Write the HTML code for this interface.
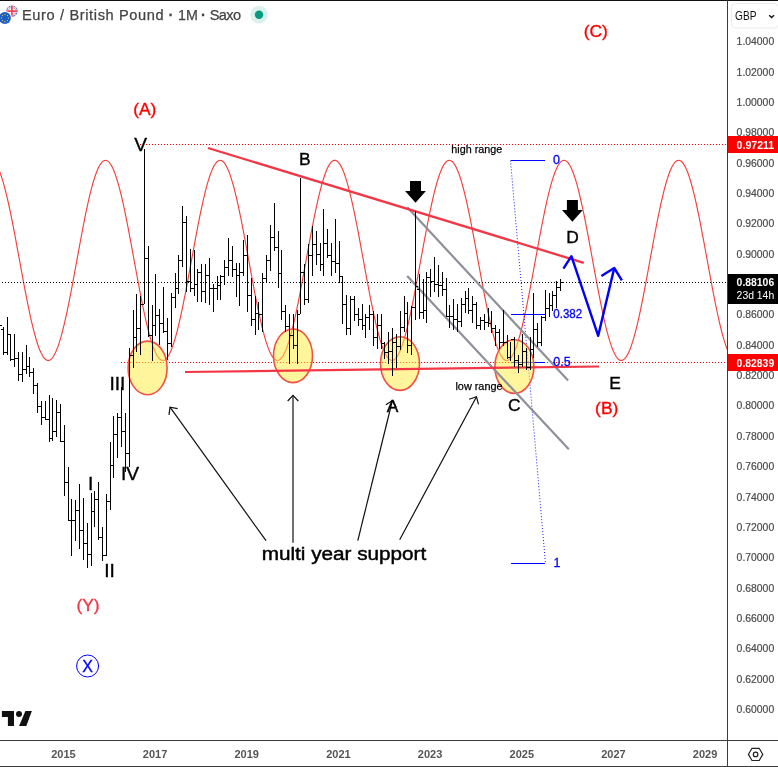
<!DOCTYPE html>
<html lang="en"><head><meta charset="utf-8"><title>EURGBP 1M</title>
<style>
html,body{margin:0;padding:0;background:#fff;}
body{width:778px;height:767px;overflow:hidden;position:relative;font-family:"Liberation Sans", "DejaVu Sans", sans-serif;}
svg{position:absolute;left:0;top:0;display:block}
text{font-family:"Liberation Sans", "DejaVu Sans", sans-serif;}
.ax{font-size:11px;fill:#4a4a4a;stroke:#4a4a4a;stroke-width:0.2px}
.lbl{font-size:16px;fill:#000;stroke:#000;stroke-width:0.35px;}
.lbl.red{stroke:#f00}.lbl.blue{stroke:#00f}
.red{fill:#f00;}
.blue{fill:#00f;stroke:#00f;stroke-width:0.3px;}
</style></head><body>
<svg width="778" height="767" viewBox="0 0 778 767">
<rect width="778" height="767" fill="#fff"/>
<defs><clipPath id="c"><rect x="0" y="1" width="727" height="739"/></clipPath></defs>
<g clip-path="url(#c)">
<polyline fill="none" stroke="#f4403c" stroke-width="1.15" points="-2.0,167.8 -0.5,171.3 1.0,175.3 2.5,179.9 4.0,185.1 5.5,190.8 7.0,196.9 8.5,203.5 10.0,210.4 11.5,217.7 13.0,225.3 14.5,233.1 16.0,241.1 17.5,249.3 19.0,257.5 20.5,265.7 22.0,273.9 23.5,282.0 25.0,289.9 26.5,297.7 28.0,305.2 29.5,312.4 31.0,319.3 32.5,325.7 34.0,331.7 35.5,337.2 37.0,342.3 38.5,346.7 40.0,350.6 41.5,353.8 43.0,356.5 44.5,358.5 46.0,359.8 47.5,360.4 49.0,360.4 50.5,359.7 52.0,358.3 53.5,356.3 55.0,353.6 56.5,350.3 58.0,346.4 59.5,341.9 61.0,336.8 62.5,331.2 64.0,325.2 65.5,318.7 67.0,311.8 68.5,304.6 70.0,297.1 71.5,289.3 73.0,281.3 74.5,273.2 76.0,265.0 77.5,256.8 79.0,248.6 80.5,240.5 82.0,232.5 83.5,224.7 85.0,217.1 86.5,209.9 88.0,202.9 89.5,196.4 91.0,190.3 92.5,184.7 94.0,179.5 95.5,175.0 97.0,171.0 98.5,167.6 100.0,164.8 101.5,162.7 103.0,161.2 104.5,160.5 106.0,160.3 107.5,160.9 109.0,162.1 110.5,164.0 112.0,166.6 113.5,169.8 115.0,173.6 116.5,178.0 118.0,182.9 119.5,188.4 121.0,194.3 122.5,200.7 124.0,207.5 125.5,214.7 127.0,222.1 128.5,229.9 130.0,237.8 131.5,245.9 133.0,254.1 134.5,262.3 136.0,270.5 137.5,278.7 139.0,286.7 140.5,294.5 142.0,302.1 143.5,309.5 145.0,316.5 146.5,323.1 148.0,329.3 149.5,335.0 151.0,340.2 152.5,344.9 154.0,349.1 155.5,352.6 157.0,355.5 158.5,357.7 160.0,359.3 161.5,360.2 163.0,360.5 164.5,360.1 166.0,359.0 167.5,357.2 169.0,354.8 170.5,351.7 172.0,348.1 173.5,343.8 175.0,339.0 176.5,333.6 178.0,327.8 179.5,321.4 181.0,314.7 182.5,307.6 184.0,300.2 185.5,292.6 187.0,284.7 188.5,276.6 190.0,268.4 191.5,260.2 193.0,252.0 194.5,243.8 196.0,235.8 197.5,227.9 199.0,220.2 200.5,212.8 202.0,205.8 203.5,199.0 205.0,192.8 206.5,186.9 208.0,181.6 209.5,176.8 211.0,172.6 212.5,168.9 214.0,165.9 215.5,163.5 217.0,161.8 218.5,160.7 220.0,160.3 221.5,160.6 223.0,161.5 224.5,163.2 226.0,165.5 227.5,168.4 229.0,171.9 230.5,176.1 232.0,180.8 233.5,186.0 235.0,191.8 236.5,198.0 238.0,204.7 239.5,211.7 241.0,219.0 242.5,226.6 244.0,234.5 245.5,242.5 247.0,250.7 248.5,258.9 250.0,267.1 251.5,275.3 253.0,283.4 254.5,291.3 256.0,299.0 257.5,306.5 259.0,313.6 260.5,320.4 262.0,326.8 263.5,332.7 265.0,338.1 266.5,343.1 268.0,347.4 269.5,351.2 271.0,354.3 272.5,356.9 274.0,358.7 275.5,359.9 277.0,360.5 278.5,360.3 280.0,359.5 281.5,358.0 283.0,355.9 284.5,353.1 286.0,349.7 287.5,345.6 289.0,341.0 290.5,335.9 292.0,330.2 293.5,324.1 295.0,317.6 296.5,310.6 298.0,303.3 299.5,295.8 301.0,287.9 302.5,279.9 304.0,271.8 305.5,263.6 307.0,255.4 308.5,247.2 310.0,239.1 311.5,231.1 313.0,223.4 314.5,215.8 316.0,208.6 317.5,201.8 319.0,195.3 320.5,189.3 322.0,183.7 323.5,178.7 325.0,174.2 326.5,170.3 328.0,167.1 329.5,164.4 331.0,162.4 332.5,161.1 334.0,160.4 335.5,160.4 337.0,161.1 338.5,162.4 340.0,164.4 341.5,167.1 343.0,170.4 344.5,174.3 346.0,178.8 347.5,183.8 349.0,189.4 350.5,195.4 352.0,201.9 353.5,208.7 355.0,215.9 356.5,223.5 358.0,231.2 359.5,239.2 361.0,247.3 362.5,255.5 364.0,263.7 365.5,271.9 367.0,280.1 368.5,288.0 370.0,295.9 371.5,303.4 373.0,310.7 374.5,317.6 376.0,324.2 377.5,330.3 379.0,336.0 380.5,341.1 382.0,345.7 383.5,349.7 385.0,353.1 386.5,355.9 388.0,358.0 389.5,359.5 391.0,360.3 392.5,360.5 394.0,359.9 395.5,358.7 397.0,356.8 398.5,354.3 400.0,351.1 401.5,347.4 403.0,343.0 404.5,338.1 406.0,332.6 407.5,326.7 409.0,320.3 410.5,313.5 412.0,306.4 413.5,298.9 415.0,291.2 416.5,283.3 418.0,275.2 419.5,267.0 421.0,258.8 422.5,250.6 424.0,242.4 425.5,234.4 427.0,226.5 428.5,218.9 430.0,211.6 431.5,204.6 433.0,197.9 434.5,191.7 436.0,186.0 437.5,180.7 439.0,176.0 440.5,171.9 442.0,168.3 443.5,165.4 445.0,163.1 446.5,161.5 448.0,160.6 449.5,160.3 451.0,160.7 452.5,161.8 454.0,163.5 455.5,165.9 457.0,169.0 458.5,172.6 460.0,176.8 461.5,181.7 463.0,187.0 464.5,192.8 466.0,199.1 467.5,205.8 469.0,212.9 470.5,220.3 472.0,228.0 473.5,235.9 475.0,243.9 476.5,252.1 478.0,260.3 479.5,268.5 481.0,276.7 482.5,284.8 484.0,292.7 485.5,300.3 487.0,307.7 488.5,314.8 490.0,321.5 491.5,327.8 493.0,333.7 494.5,339.0 496.0,343.9 497.5,348.1 499.0,351.8 500.5,354.8 502.0,357.2 503.5,359.0 505.0,360.1 506.5,360.5 508.0,360.2 509.5,359.3 511.0,357.7 512.5,355.4 514.0,352.5 515.5,349.0 517.0,344.9 518.5,340.2 520.0,334.9 521.5,329.2 523.0,323.0 524.5,316.4 526.0,309.4 527.5,302.0 529.0,294.4 530.5,286.6 532.0,278.5 533.5,270.4 535.0,262.2 536.5,254.0 538.0,245.8 539.5,237.7 541.0,229.8 542.5,222.0 544.0,214.6 545.5,207.4 547.0,200.6 548.5,194.2 550.0,188.3 551.5,182.8 553.0,177.9 554.5,173.5 556.0,169.7 557.5,166.5 559.0,164.0 560.5,162.1 562.0,160.9 563.5,160.3 565.0,160.5 566.5,161.3 568.0,162.7 569.5,164.8 571.0,167.6 572.5,171.0 574.0,175.0 575.5,179.6 577.0,184.7 578.5,190.4 580.0,196.5 581.5,203.0 583.0,210.0 584.5,217.2 586.0,224.8 587.5,232.6 589.0,240.6 590.5,248.7 592.0,256.9 593.5,265.1 595.0,273.3 596.5,281.4 598.0,289.4 599.5,297.2 601.0,304.7 602.5,311.9 604.0,318.8 605.5,325.3 607.0,331.3 608.5,336.9 610.0,341.9 611.5,346.4 613.0,350.3 614.5,353.6 616.0,356.3 617.5,358.3 619.0,359.7 620.5,360.4 622.0,360.4 623.5,359.8 625.0,358.4 626.5,356.4 628.0,353.8 629.5,350.5 631.0,346.7 632.5,342.2 634.0,337.2 635.5,331.6 637.0,325.6 638.5,319.2 640.0,312.3 641.5,305.1 643.0,297.6 644.5,289.8 646.0,281.9 647.5,273.8 649.0,265.6 650.5,257.4 652.0,249.1 653.5,241.0 655.0,233.0 656.5,225.2 658.0,217.6 659.5,210.3 661.0,203.4 662.5,196.8 664.0,190.7 665.5,185.0 667.0,179.9 668.5,175.3 670.0,171.2 671.5,167.8 673.0,165.0 674.5,162.8 676.0,161.3 677.5,160.5 679.0,160.3 680.5,160.8 682.0,162.0 683.5,163.9 685.0,166.4 686.5,169.5 688.0,173.3 689.5,177.6 691.0,182.5 692.5,188.0 694.0,193.9 695.5,200.3 697.0,207.0 698.5,214.2 700.0,221.6 701.5,229.3 703.0,237.3 704.5,245.3 706.0,253.5 707.5,261.7 709.0,270.0 710.5,278.1 712.0,286.1 713.5,294.0 715.0,301.6 716.5,309.0 718.0,316.0 719.5,322.7 721.0,328.9 722.5,334.7 724.0,339.9 725.5,344.6 727.0,348.8 728.5,352.4 730.0,355.3"/>
<g shape-rendering="crispEdges">
<line x1="140" y1="144.5" x2="727" y2="144.5" stroke="#f00" stroke-width="1" stroke-dasharray="1 2"/>
<line x1="121" y1="362.5" x2="727" y2="362.5" stroke="#f00" stroke-width="1" stroke-dasharray="1 2"/>
<line x1="-1" y1="282.5" x2="727" y2="282.5" stroke="#000" stroke-width="1" stroke-dasharray="1 2"/>
</g>
<line x1="510.5" y1="160.5" x2="545.5" y2="563.5" stroke="#00f" stroke-width="1" stroke-dasharray="1 2" opacity="0.9"/>
<g shape-rendering="crispEdges" stroke="#00f" stroke-width="1">
<line x1="511" y1="160.5" x2="545" y2="160.5"/>
<line x1="511" y1="314.5" x2="545" y2="314.5"/>
<line x1="511" y1="362.5" x2="545" y2="362.5"/>
<line x1="511" y1="563.5" x2="545" y2="563.5"/>
</g>
<ellipse cx="147.6" cy="367.9" rx="19.5" ry="26.8" fill="#ffeb3b" fill-opacity="0.5" stroke="#f44f45" stroke-width="1.6"/>
<ellipse cx="293.0" cy="355.8" rx="19.5" ry="26.8" fill="#ffeb3b" fill-opacity="0.5" stroke="#f44f45" stroke-width="1.6"/>
<ellipse cx="400.0" cy="363.6" rx="19.5" ry="26.8" fill="#ffeb3b" fill-opacity="0.5" stroke="#f44f45" stroke-width="1.6"/>
<ellipse cx="514.4" cy="366.6" rx="19.5" ry="26.8" fill="#ffeb3b" fill-opacity="0.5" stroke="#f44f45" stroke-width="1.6"/>
<line x1="407.3" y1="207.3" x2="568.1" y2="380.6" stroke="#8e909a" stroke-width="2.2"/>
<line x1="407.2" y1="276.1" x2="568.8" y2="449.3" stroke="#8e909a" stroke-width="2.2"/>
<line x1="208" y1="148" x2="583.8" y2="262.8" stroke="#f23645" stroke-width="2.3"/>
<line x1="185" y1="372" x2="599" y2="366.5" stroke="#f23645" stroke-width="2.2"/>
<g fill="#000" shape-rendering="crispEdges">
<rect x="-1" y="302" width="1" height="44"/>
<rect x="-3" y="311" width="2" height="1"/>
<rect x="0" y="325" width="2" height="1"/>
<rect x="3" y="327" width="1" height="28"/>
<rect x="1" y="329" width="2" height="1"/>
<rect x="4" y="352" width="2" height="1"/>
<rect x="7" y="317" width="1" height="38"/>
<rect x="5" y="352" width="2" height="1"/>
<rect x="8" y="334" width="2" height="1"/>
<rect x="10" y="334" width="1" height="27"/>
<rect x="8" y="334" width="2" height="1"/>
<rect x="11" y="359" width="2" height="1"/>
<rect x="14" y="334" width="1" height="33"/>
<rect x="12" y="359" width="2" height="1"/>
<rect x="15" y="358" width="2" height="1"/>
<rect x="18" y="352" width="1" height="29"/>
<rect x="16" y="358" width="2" height="1"/>
<rect x="19" y="374" width="2" height="1"/>
<rect x="22" y="352" width="1" height="30"/>
<rect x="20" y="374" width="2" height="1"/>
<rect x="23" y="369" width="2" height="1"/>
<rect x="26" y="345" width="1" height="29"/>
<rect x="24" y="369" width="2" height="1"/>
<rect x="27" y="366" width="2" height="1"/>
<rect x="29" y="357" width="1" height="20"/>
<rect x="27" y="366" width="2" height="1"/>
<rect x="30" y="372" width="2" height="1"/>
<rect x="33" y="368" width="1" height="26"/>
<rect x="31" y="372" width="2" height="1"/>
<rect x="34" y="385" width="2" height="1"/>
<rect x="37" y="383" width="1" height="30"/>
<rect x="35" y="385" width="2" height="1"/>
<rect x="38" y="406" width="2" height="1"/>
<rect x="41" y="401" width="1" height="24"/>
<rect x="39" y="406" width="2" height="1"/>
<rect x="42" y="417" width="2" height="1"/>
<rect x="45" y="401" width="1" height="19"/>
<rect x="43" y="417" width="2" height="1"/>
<rect x="46" y="419" width="2" height="1"/>
<rect x="49" y="395" width="1" height="47"/>
<rect x="47" y="419" width="2" height="1"/>
<rect x="50" y="438" width="2" height="1"/>
<rect x="52" y="398" width="1" height="43"/>
<rect x="50" y="438" width="2" height="1"/>
<rect x="53" y="431" width="2" height="1"/>
<rect x="56" y="400" width="1" height="37"/>
<rect x="54" y="431" width="2" height="1"/>
<rect x="57" y="412" width="2" height="1"/>
<rect x="60" y="404" width="1" height="38"/>
<rect x="58" y="412" width="2" height="1"/>
<rect x="61" y="441" width="2" height="1"/>
<rect x="64" y="425" width="1" height="71"/>
<rect x="62" y="441" width="2" height="1"/>
<rect x="65" y="482" width="2" height="1"/>
<rect x="68" y="467" width="1" height="54"/>
<rect x="66" y="482" width="2" height="1"/>
<rect x="69" y="520" width="2" height="1"/>
<rect x="71" y="499" width="1" height="57"/>
<rect x="69" y="520" width="2" height="1"/>
<rect x="72" y="520" width="2" height="1"/>
<rect x="75" y="500" width="1" height="41"/>
<rect x="73" y="520" width="2" height="1"/>
<rect x="76" y="510" width="2" height="1"/>
<rect x="79" y="484" width="1" height="65"/>
<rect x="77" y="510" width="2" height="1"/>
<rect x="80" y="530" width="2" height="1"/>
<rect x="83" y="498" width="1" height="62"/>
<rect x="81" y="530" width="2" height="1"/>
<rect x="84" y="543" width="2" height="1"/>
<rect x="87" y="523" width="1" height="45"/>
<rect x="85" y="543" width="2" height="1"/>
<rect x="88" y="554" width="2" height="1"/>
<rect x="91" y="493" width="1" height="73"/>
<rect x="89" y="554" width="2" height="1"/>
<rect x="92" y="511" width="2" height="1"/>
<rect x="94" y="491" width="1" height="36"/>
<rect x="92" y="511" width="2" height="1"/>
<rect x="95" y="499" width="2" height="1"/>
<rect x="98" y="482" width="1" height="58"/>
<rect x="96" y="499" width="2" height="1"/>
<rect x="99" y="537" width="2" height="1"/>
<rect x="102" y="527" width="1" height="34"/>
<rect x="100" y="537" width="2" height="1"/>
<rect x="103" y="555" width="2" height="1"/>
<rect x="106" y="494" width="1" height="62"/>
<rect x="104" y="555" width="2" height="1"/>
<rect x="107" y="501" width="2" height="1"/>
<rect x="110" y="442" width="1" height="68"/>
<rect x="108" y="501" width="2" height="1"/>
<rect x="111" y="465" width="2" height="1"/>
<rect x="113" y="416" width="1" height="62"/>
<rect x="111" y="465" width="2" height="1"/>
<rect x="114" y="434" width="2" height="1"/>
<rect x="117" y="413" width="1" height="45"/>
<rect x="115" y="434" width="2" height="1"/>
<rect x="118" y="417" width="2" height="1"/>
<rect x="121" y="387" width="1" height="60"/>
<rect x="119" y="417" width="2" height="1"/>
<rect x="122" y="431" width="2" height="1"/>
<rect x="125" y="413" width="1" height="59"/>
<rect x="123" y="431" width="2" height="1"/>
<rect x="126" y="453" width="2" height="1"/>
<rect x="129" y="348" width="1" height="119"/>
<rect x="127" y="453" width="2" height="1"/>
<rect x="130" y="355" width="2" height="1"/>
<rect x="133" y="310" width="1" height="58"/>
<rect x="131" y="355" width="2" height="1"/>
<rect x="134" y="337" width="2" height="1"/>
<rect x="136" y="294" width="1" height="58"/>
<rect x="134" y="337" width="2" height="1"/>
<rect x="137" y="328" width="2" height="1"/>
<rect x="140" y="296" width="1" height="59"/>
<rect x="138" y="328" width="2" height="1"/>
<rect x="141" y="304" width="2" height="1"/>
<rect x="144" y="149" width="1" height="155"/>
<rect x="142" y="304" width="2" height="1"/>
<rect x="145" y="258" width="2" height="1"/>
<rect x="148" y="246" width="1" height="91"/>
<rect x="146" y="258" width="2" height="1"/>
<rect x="149" y="335" width="2" height="1"/>
<rect x="152" y="305" width="1" height="56"/>
<rect x="150" y="335" width="2" height="1"/>
<rect x="153" y="325" width="2" height="1"/>
<rect x="155" y="274" width="1" height="62"/>
<rect x="153" y="325" width="2" height="1"/>
<rect x="156" y="315" width="2" height="1"/>
<rect x="159" y="309" width="1" height="36"/>
<rect x="157" y="315" width="2" height="1"/>
<rect x="160" y="323" width="2" height="1"/>
<rect x="163" y="287" width="1" height="46"/>
<rect x="161" y="323" width="2" height="1"/>
<rect x="164" y="331" width="2" height="1"/>
<rect x="167" y="318" width="1" height="42"/>
<rect x="165" y="331" width="2" height="1"/>
<rect x="168" y="343" width="2" height="1"/>
<rect x="171" y="293" width="1" height="54"/>
<rect x="169" y="343" width="2" height="1"/>
<rect x="172" y="297" width="2" height="1"/>
<rect x="175" y="273" width="1" height="35"/>
<rect x="173" y="297" width="2" height="1"/>
<rect x="176" y="288" width="2" height="1"/>
<rect x="178" y="255" width="1" height="39"/>
<rect x="176" y="288" width="2" height="1"/>
<rect x="179" y="260" width="2" height="1"/>
<rect x="182" y="206" width="1" height="61"/>
<rect x="180" y="260" width="2" height="1"/>
<rect x="183" y="222" width="2" height="1"/>
<rect x="186" y="216" width="1" height="76"/>
<rect x="184" y="222" width="2" height="1"/>
<rect x="187" y="281" width="2" height="1"/>
<rect x="190" y="249" width="1" height="43"/>
<rect x="188" y="281" width="2" height="1"/>
<rect x="191" y="288" width="2" height="1"/>
<rect x="194" y="250" width="1" height="46"/>
<rect x="192" y="288" width="2" height="1"/>
<rect x="195" y="284" width="2" height="1"/>
<rect x="197" y="269" width="1" height="33"/>
<rect x="195" y="284" width="2" height="1"/>
<rect x="198" y="272" width="2" height="1"/>
<rect x="201" y="264" width="1" height="38"/>
<rect x="199" y="272" width="2" height="1"/>
<rect x="202" y="291" width="2" height="1"/>
<rect x="205" y="264" width="1" height="39"/>
<rect x="203" y="291" width="2" height="1"/>
<rect x="206" y="275" width="2" height="1"/>
<rect x="209" y="258" width="1" height="47"/>
<rect x="207" y="275" width="2" height="1"/>
<rect x="210" y="288" width="2" height="1"/>
<rect x="213" y="284" width="1" height="28"/>
<rect x="211" y="288" width="2" height="1"/>
<rect x="214" y="288" width="2" height="1"/>
<rect x="217" y="276" width="1" height="24"/>
<rect x="215" y="288" width="2" height="1"/>
<rect x="218" y="285" width="2" height="1"/>
<rect x="220" y="275" width="1" height="25"/>
<rect x="218" y="285" width="2" height="1"/>
<rect x="221" y="276" width="2" height="1"/>
<rect x="224" y="260" width="1" height="25"/>
<rect x="222" y="276" width="2" height="1"/>
<rect x="225" y="267" width="2" height="1"/>
<rect x="228" y="238" width="1" height="38"/>
<rect x="226" y="267" width="2" height="1"/>
<rect x="229" y="260" width="2" height="1"/>
<rect x="232" y="246" width="1" height="31"/>
<rect x="230" y="260" width="2" height="1"/>
<rect x="233" y="269" width="2" height="1"/>
<rect x="236" y="263" width="1" height="34"/>
<rect x="234" y="269" width="2" height="1"/>
<rect x="237" y="275" width="2" height="1"/>
<rect x="239" y="263" width="1" height="43"/>
<rect x="237" y="275" width="2" height="1"/>
<rect x="240" y="272" width="2" height="1"/>
<rect x="243" y="240" width="1" height="36"/>
<rect x="241" y="272" width="2" height="1"/>
<rect x="244" y="255" width="2" height="1"/>
<rect x="247" y="235" width="1" height="77"/>
<rect x="245" y="255" width="2" height="1"/>
<rect x="248" y="295" width="2" height="1"/>
<rect x="251" y="278" width="1" height="48"/>
<rect x="249" y="295" width="2" height="1"/>
<rect x="252" y="319" width="2" height="1"/>
<rect x="255" y="296" width="1" height="39"/>
<rect x="253" y="319" width="2" height="1"/>
<rect x="256" y="313" width="2" height="1"/>
<rect x="258" y="302" width="1" height="28"/>
<rect x="256" y="313" width="2" height="1"/>
<rect x="259" y="314" width="2" height="1"/>
<rect x="262" y="273" width="1" height="59"/>
<rect x="260" y="314" width="2" height="1"/>
<rect x="263" y="278" width="2" height="1"/>
<rect x="266" y="255" width="1" height="27"/>
<rect x="264" y="278" width="2" height="1"/>
<rect x="267" y="260" width="2" height="1"/>
<rect x="270" y="225" width="1" height="46"/>
<rect x="268" y="260" width="2" height="1"/>
<rect x="271" y="237" width="2" height="1"/>
<rect x="274" y="203" width="1" height="48"/>
<rect x="272" y="237" width="2" height="1"/>
<rect x="275" y="247" width="2" height="1"/>
<rect x="278" y="231" width="1" height="57"/>
<rect x="276" y="247" width="2" height="1"/>
<rect x="279" y="273" width="2" height="1"/>
<rect x="281" y="250" width="1" height="70"/>
<rect x="279" y="273" width="2" height="1"/>
<rect x="282" y="311" width="2" height="1"/>
<rect x="285" y="305" width="1" height="27"/>
<rect x="283" y="311" width="2" height="1"/>
<rect x="286" y="326" width="2" height="1"/>
<rect x="289" y="314" width="1" height="50"/>
<rect x="287" y="326" width="2" height="1"/>
<rect x="290" y="335" width="2" height="1"/>
<rect x="293" y="314" width="1" height="35"/>
<rect x="291" y="335" width="2" height="1"/>
<rect x="294" y="345" width="2" height="1"/>
<rect x="297" y="310" width="1" height="54"/>
<rect x="295" y="345" width="2" height="1"/>
<rect x="298" y="314" width="2" height="1"/>
<rect x="300" y="178" width="1" height="136"/>
<rect x="298" y="314" width="2" height="1"/>
<rect x="301" y="272" width="2" height="1"/>
<rect x="304" y="264" width="1" height="41"/>
<rect x="302" y="272" width="2" height="1"/>
<rect x="305" y="299" width="2" height="1"/>
<rect x="308" y="244" width="1" height="59"/>
<rect x="306" y="299" width="2" height="1"/>
<rect x="309" y="255" width="2" height="1"/>
<rect x="312" y="226" width="1" height="50"/>
<rect x="310" y="255" width="2" height="1"/>
<rect x="313" y="244" width="2" height="1"/>
<rect x="316" y="231" width="1" height="34"/>
<rect x="314" y="244" width="2" height="1"/>
<rect x="317" y="254" width="2" height="1"/>
<rect x="320" y="243" width="1" height="28"/>
<rect x="318" y="254" width="2" height="1"/>
<rect x="321" y="264" width="2" height="1"/>
<rect x="323" y="209" width="1" height="67"/>
<rect x="321" y="264" width="2" height="1"/>
<rect x="324" y="243" width="2" height="1"/>
<rect x="327" y="229" width="1" height="29"/>
<rect x="325" y="243" width="2" height="1"/>
<rect x="328" y="255" width="2" height="1"/>
<rect x="331" y="243" width="1" height="33"/>
<rect x="329" y="255" width="2" height="1"/>
<rect x="332" y="261" width="2" height="1"/>
<rect x="335" y="219" width="1" height="54"/>
<rect x="333" y="261" width="2" height="1"/>
<rect x="336" y="263" width="2" height="1"/>
<rect x="339" y="241" width="1" height="42"/>
<rect x="337" y="263" width="2" height="1"/>
<rect x="340" y="276" width="2" height="1"/>
<rect x="342" y="276" width="1" height="48"/>
<rect x="340" y="276" width="2" height="1"/>
<rect x="343" y="304" width="2" height="1"/>
<rect x="346" y="295" width="1" height="40"/>
<rect x="344" y="304" width="2" height="1"/>
<rect x="347" y="328" width="2" height="1"/>
<rect x="350" y="296" width="1" height="39"/>
<rect x="348" y="328" width="2" height="1"/>
<rect x="351" y="299" width="2" height="1"/>
<rect x="354" y="296" width="1" height="25"/>
<rect x="352" y="299" width="2" height="1"/>
<rect x="355" y="314" width="2" height="1"/>
<rect x="358" y="308" width="1" height="18"/>
<rect x="356" y="314" width="2" height="1"/>
<rect x="359" y="319" width="2" height="1"/>
<rect x="362" y="304" width="1" height="26"/>
<rect x="360" y="319" width="2" height="1"/>
<rect x="363" y="325" width="2" height="1"/>
<rect x="365" y="314" width="1" height="24"/>
<rect x="363" y="325" width="2" height="1"/>
<rect x="366" y="317" width="2" height="1"/>
<rect x="369" y="305" width="1" height="25"/>
<rect x="367" y="317" width="2" height="1"/>
<rect x="370" y="314" width="2" height="1"/>
<rect x="373" y="311" width="1" height="35"/>
<rect x="371" y="314" width="2" height="1"/>
<rect x="374" y="337" width="2" height="1"/>
<rect x="377" y="314" width="1" height="35"/>
<rect x="375" y="337" width="2" height="1"/>
<rect x="378" y="325" width="2" height="1"/>
<rect x="381" y="314" width="1" height="35"/>
<rect x="379" y="325" width="2" height="1"/>
<rect x="382" y="343" width="2" height="1"/>
<rect x="384" y="342" width="1" height="17"/>
<rect x="382" y="343" width="2" height="1"/>
<rect x="385" y="352" width="2" height="1"/>
<rect x="388" y="332" width="1" height="32"/>
<rect x="386" y="352" width="2" height="1"/>
<rect x="389" y="351" width="2" height="1"/>
<rect x="392" y="328" width="1" height="48"/>
<rect x="390" y="351" width="2" height="1"/>
<rect x="393" y="342" width="2" height="1"/>
<rect x="396" y="334" width="1" height="34"/>
<rect x="394" y="342" width="2" height="1"/>
<rect x="397" y="346" width="2" height="1"/>
<rect x="400" y="311" width="1" height="39"/>
<rect x="398" y="346" width="2" height="1"/>
<rect x="401" y="327" width="2" height="1"/>
<rect x="404" y="296" width="1" height="36"/>
<rect x="402" y="327" width="2" height="1"/>
<rect x="405" y="313" width="2" height="1"/>
<rect x="407" y="302" width="1" height="51"/>
<rect x="405" y="313" width="2" height="1"/>
<rect x="408" y="345" width="2" height="1"/>
<rect x="411" y="306" width="1" height="49"/>
<rect x="409" y="345" width="2" height="1"/>
<rect x="412" y="307" width="2" height="1"/>
<rect x="415" y="211" width="1" height="109"/>
<rect x="413" y="307" width="2" height="1"/>
<rect x="416" y="286" width="2" height="1"/>
<rect x="419" y="274" width="1" height="45"/>
<rect x="417" y="289" width="2" height="1"/>
<rect x="420" y="312" width="2" height="1"/>
<rect x="423" y="279" width="1" height="40"/>
<rect x="421" y="312" width="2" height="1"/>
<rect x="424" y="310" width="2" height="1"/>
<rect x="426" y="272" width="1" height="51"/>
<rect x="424" y="310" width="2" height="1"/>
<rect x="427" y="277" width="2" height="1"/>
<rect x="430" y="269" width="1" height="28"/>
<rect x="428" y="277" width="2" height="1"/>
<rect x="431" y="281" width="2" height="1"/>
<rect x="434" y="257" width="1" height="35"/>
<rect x="432" y="281" width="2" height="1"/>
<rect x="435" y="284" width="2" height="1"/>
<rect x="438" y="265" width="1" height="32"/>
<rect x="436" y="284" width="2" height="1"/>
<rect x="439" y="285" width="2" height="1"/>
<rect x="442" y="272" width="1" height="24"/>
<rect x="440" y="285" width="2" height="1"/>
<rect x="443" y="289" width="2" height="1"/>
<rect x="446" y="278" width="1" height="39"/>
<rect x="444" y="289" width="2" height="1"/>
<rect x="447" y="316" width="2" height="1"/>
<rect x="449" y="305" width="1" height="23"/>
<rect x="447" y="316" width="2" height="1"/>
<rect x="450" y="316" width="2" height="1"/>
<rect x="453" y="299" width="1" height="31"/>
<rect x="451" y="316" width="2" height="1"/>
<rect x="454" y="319" width="2" height="1"/>
<rect x="457" y="304" width="1" height="28"/>
<rect x="455" y="319" width="2" height="1"/>
<rect x="458" y="321" width="2" height="1"/>
<rect x="461" y="298" width="1" height="29"/>
<rect x="459" y="321" width="2" height="1"/>
<rect x="462" y="304" width="2" height="1"/>
<rect x="465" y="291" width="1" height="22"/>
<rect x="463" y="304" width="2" height="1"/>
<rect x="466" y="298" width="2" height="1"/>
<rect x="468" y="288" width="1" height="26"/>
<rect x="466" y="298" width="2" height="1"/>
<rect x="469" y="310" width="2" height="1"/>
<rect x="472" y="296" width="1" height="27"/>
<rect x="470" y="310" width="2" height="1"/>
<rect x="473" y="304" width="2" height="1"/>
<rect x="476" y="302" width="1" height="27"/>
<rect x="474" y="304" width="2" height="1"/>
<rect x="477" y="325" width="2" height="1"/>
<rect x="480" y="317" width="1" height="13"/>
<rect x="478" y="325" width="2" height="1"/>
<rect x="481" y="320" width="2" height="1"/>
<rect x="484" y="314" width="1" height="16"/>
<rect x="482" y="320" width="2" height="1"/>
<rect x="485" y="322" width="2" height="1"/>
<rect x="488" y="308" width="1" height="19"/>
<rect x="486" y="322" width="2" height="1"/>
<rect x="489" y="323" width="2" height="1"/>
<rect x="491" y="311" width="1" height="22"/>
<rect x="489" y="323" width="2" height="1"/>
<rect x="492" y="328" width="2" height="1"/>
<rect x="495" y="325" width="1" height="21"/>
<rect x="493" y="328" width="2" height="1"/>
<rect x="496" y="332" width="2" height="1"/>
<rect x="499" y="329" width="1" height="20"/>
<rect x="497" y="332" width="2" height="1"/>
<rect x="500" y="342" width="2" height="1"/>
<rect x="503" y="310" width="1" height="36"/>
<rect x="501" y="342" width="2" height="1"/>
<rect x="504" y="342" width="2" height="1"/>
<rect x="507" y="335" width="1" height="24"/>
<rect x="505" y="342" width="2" height="1"/>
<rect x="508" y="357" width="2" height="1"/>
<rect x="510" y="342" width="1" height="19"/>
<rect x="508" y="357" width="2" height="1"/>
<rect x="511" y="339" width="2" height="1"/>
<rect x="514" y="337" width="1" height="30"/>
<rect x="512" y="339" width="2" height="1"/>
<rect x="515" y="360" width="2" height="1"/>
<rect x="518" y="355" width="1" height="18"/>
<rect x="516" y="360" width="2" height="1"/>
<rect x="519" y="364" width="2" height="1"/>
<rect x="522" y="334" width="1" height="33"/>
<rect x="520" y="364" width="2" height="1"/>
<rect x="523" y="351" width="2" height="1"/>
<rect x="526" y="348" width="1" height="22"/>
<rect x="524" y="351" width="2" height="1"/>
<rect x="527" y="367" width="2" height="1"/>
<rect x="530" y="337" width="1" height="33"/>
<rect x="528" y="367" width="2" height="1"/>
<rect x="531" y="349" width="2" height="1"/>
<rect x="533" y="293" width="1" height="65"/>
<rect x="531" y="349" width="2" height="1"/>
<rect x="534" y="329" width="2" height="1"/>
<rect x="537" y="323" width="1" height="24"/>
<rect x="535" y="329" width="2" height="1"/>
<rect x="538" y="342" width="2" height="1"/>
<rect x="541" y="316" width="1" height="30"/>
<rect x="539" y="342" width="2" height="1"/>
<rect x="542" y="317" width="2" height="1"/>
<rect x="545" y="290" width="1" height="31"/>
<rect x="543" y="317" width="2" height="1"/>
<rect x="546" y="308" width="2" height="1"/>
<rect x="549" y="293" width="1" height="24"/>
<rect x="547" y="308" width="2" height="1"/>
<rect x="550" y="305" width="2" height="1"/>
<rect x="552" y="291" width="1" height="20"/>
<rect x="550" y="305" width="2" height="1"/>
<rect x="553" y="295" width="2" height="1"/>
<rect x="556" y="281" width="1" height="27"/>
<rect x="554" y="295" width="2" height="1"/>
<rect x="557" y="287" width="2" height="1"/>
<rect x="560" y="279" width="1" height="12"/>
<rect x="558" y="287" width="2" height="1"/>
<rect x="561" y="282" width="2" height="1"/>
</g>
<g fill="none" stroke="#00f" stroke-width="2.4" stroke-linejoin="round" stroke-linecap="butt">
<polyline points="563.4,268.6 571.4,256.2 598.2,335.8 614.1,268.6"/>
<polyline points="601.4,276 614.2,268 621.9,280.3"/>
</g>
<polygon fill="#000" points="410.0,181.0 421.0,181.0 421.0,191.1 425.9,191.1 415.5,202.8 405.1,191.1 410.0,191.1"/>
<polygon fill="#000" points="566.9,200.0 577.9,200.0 577.9,210.1 582.8,210.1 572.4,221.8 562.0,210.1 566.9,210.1"/>
<g fill="none" stroke="#111" stroke-width="1.2"><line x1="266.0" y1="540.6" x2="170.0" y2="407.2"/><polyline points="177.6,408.7 170.0,407.2 169.0,414.9"/></g>
<g fill="none" stroke="#111" stroke-width="1.2"><line x1="293.0" y1="542.8" x2="293.0" y2="395.3"/><polyline points="298.3,401.0 293.0,395.3 287.7,401.0"/></g>
<g fill="none" stroke="#111" stroke-width="1.2"><line x1="357.8" y1="540.6" x2="392.4" y2="400.5"/><polyline points="396.2,407.3 392.4,400.5 385.9,404.8"/></g>
<g fill="none" stroke="#111" stroke-width="1.2"><line x1="399.7" y1="539.7" x2="476.5" y2="396.8"/><polyline points="478.5,404.3 476.5,396.8 469.1,399.3"/></g>
<text x="144.8" y="115.0" text-anchor="middle" class="lbl red" style="font-size:17.4px">(A)</text>
<text x="140.6" y="150.5" text-anchor="middle" class="lbl" style="font-size:19.2px">V</text>
<text x="304.8" y="164.6" text-anchor="middle" class="lbl" style="font-size:17.4px">B</text>
<text x="595.8" y="36.6" text-anchor="middle" class="lbl red" style="font-size:17.4px">(C)</text>
<text x="572.5" y="242.5" text-anchor="middle" class="lbl" style="font-size:17.4px">D</text>
<text x="615.0" y="388.8" text-anchor="middle" class="lbl" style="font-size:17.4px">E</text>
<text x="606.7" y="413.5" text-anchor="middle" class="lbl red" style="font-size:17.4px">(B)</text>
<text x="392.6" y="411.7" text-anchor="middle" class="lbl" style="font-size:17.4px">A</text>
<text x="514.4" y="411.4" text-anchor="middle" class="lbl" style="font-size:17.4px">C</text>
<text x="117.4" y="390.0" text-anchor="middle" class="lbl" style="font-size:19.2px">III</text>
<text x="130.0" y="479.7" text-anchor="middle" class="lbl" style="font-size:19.2px">IV</text>
<text x="90.7" y="489.8" text-anchor="middle" class="lbl" style="font-size:19.2px">I</text>
<text x="109.5" y="577.3" text-anchor="middle" class="lbl" style="font-size:19.2px">II</text>
<text x="88.0" y="611.0" text-anchor="middle" class="lbl" style="fill:#f23645;stroke:#f23645;font-size:17.4px">(Y)</text>
<circle cx="87.6" cy="666" r="11" fill="none" stroke="#00f" stroke-width="1"/>
<text x="87.6" y="672.0" text-anchor="middle" class="lbl blue" >X</text>
<text x="344.0" y="559.8" text-anchor="middle" class="lbl" style="font-size:18.8px;stroke-width:0.45px" textLength="164.6" lengthAdjust="spacingAndGlyphs">multi year support</text>
<text x="476.8" y="152.7" text-anchor="middle" class="lbl" style="font-size:11.3px;stroke-width:0.25px" textLength="50.9" lengthAdjust="spacingAndGlyphs">high range</text>
<text x="479.0" y="389.7" text-anchor="middle" class="lbl" style="font-size:11.3px;stroke-width:0.25px" textLength="47.1" lengthAdjust="spacingAndGlyphs">low range</text>
<text x="553" y="164.2" class="blue" style="font-size:12.5px">0</text>
<text x="553.3" y="317.9" class="blue" style="font-size:12.5px" textLength="28.8" lengthAdjust="spacingAndGlyphs">0.382</text>
<text x="553.3" y="366.2" class="blue" style="font-size:12.5px">0.5</text>
<text x="553.4" y="567" class="blue" style="font-size:12.5px">1</text>
</g>
<defs><clipPath id="uk"><circle cx="11.9" cy="11.2" r="5.7"/></clipPath></defs>
<g clip-path="url(#uk)"><rect x="5" y="4" width="14" height="14" fill="#3a64c8"/>
<g stroke="#fff" stroke-width="2"><line x1="6" y1="5.3" x2="17.8" y2="17.1"/><line x1="17.8" y1="5.3" x2="6" y2="17.1"/></g>
<g stroke="#ee5a6a" stroke-width="0.7"><line x1="6" y1="5.3" x2="17.8" y2="17.1"/><line x1="17.8" y1="5.3" x2="6" y2="17.1"/></g>
<g stroke="#fff" stroke-width="3.2"><line x1="11.9" y1="4" x2="11.9" y2="18"/><line x1="5" y1="11.2" x2="19" y2="11.2"/></g>
<g stroke="#ee4458" stroke-width="1.7"><line x1="11.9" y1="4" x2="11.9" y2="18"/><line x1="5" y1="11.2" x2="19" y2="11.2"/></g></g>
<circle cx="4.9" cy="18.1" r="7" fill="#fff"/>
<circle cx="4.9" cy="18.1" r="6" fill="#1b5ec6"/>
<circle cx="8.5" cy="18.1" r="0.6" fill="#ffd54a"/>
<circle cx="7.4" cy="20.6" r="0.6" fill="#ffd54a"/>
<circle cx="4.9" cy="21.7" r="0.6" fill="#ffd54a"/>
<circle cx="2.4" cy="20.6" r="0.6" fill="#ffd54a"/>
<circle cx="1.3" cy="18.1" r="0.6" fill="#ffd54a"/>
<circle cx="2.4" cy="15.6" r="0.6" fill="#ffd54a"/>
<circle cx="4.9" cy="14.5" r="0.6" fill="#ffd54a"/>
<circle cx="7.4" cy="15.6" r="0.6" fill="#ffd54a"/>
<g style="font-size:14.6px;fill:#444;stroke:#444;stroke-width:0.25px"><text x="22" y="20.2" textLength="141.7" lengthAdjust="spacing">Euro / British Pound</text><text x="168.6" y="20.2" style="font-weight:bold">·</text><text x="178" y="20.2" textLength="19.8" lengthAdjust="spacingAndGlyphs">1M</text><text x="201" y="20.2" style="font-weight:bold">·</text><text x="209.7" y="20.2" textLength="31.3" lengthAdjust="spacing">Saxo</text></g>
<circle cx="259.1" cy="14.7" r="8.9" fill="#daf1ed"/><circle cx="259" cy="14.8" r="4.2" fill="#089981"/>
<g fill="#111"><path d="M1.9 711 H14 V725.9 H7.9 V717 H1.9Z"/><circle cx="19" cy="714" r="3"/><path d="M25.4 711 H31.9 L26.3 725.9 H19.1Z"/></g>
<g shape-rendering="crispEdges" fill="#3c3c3c">
<rect x="0" y="0" width="778" height="1" fill="#111"/>
<rect x="727" y="0" width="1" height="767"/>
<rect x="0" y="740" width="778" height="1"/>
<rect x="0" y="766" width="778" height="1"/>
</g>
<text x="736.6" y="45.1" class="ax" textLength="37.6" lengthAdjust="spacingAndGlyphs">1.04000</text>
<text x="736.6" y="75.5" class="ax" textLength="37.6" lengthAdjust="spacingAndGlyphs">1.02000</text>
<text x="736.6" y="105.8" class="ax" textLength="37.6" lengthAdjust="spacingAndGlyphs">1.00000</text>
<text x="736.6" y="136.2" class="ax" textLength="37.6" lengthAdjust="spacingAndGlyphs">0.98000</text>
<text x="736.6" y="166.5" class="ax" textLength="37.6" lengthAdjust="spacingAndGlyphs">0.96000</text>
<text x="736.6" y="196.9" class="ax" textLength="37.6" lengthAdjust="spacingAndGlyphs">0.94000</text>
<text x="736.6" y="227.3" class="ax" textLength="37.6" lengthAdjust="spacingAndGlyphs">0.92000</text>
<text x="736.6" y="257.6" class="ax" textLength="37.6" lengthAdjust="spacingAndGlyphs">0.90000</text>
<text x="736.6" y="288.0" class="ax" textLength="37.6" lengthAdjust="spacingAndGlyphs">0.88000</text>
<text x="736.6" y="318.3" class="ax" textLength="37.6" lengthAdjust="spacingAndGlyphs">0.86000</text>
<text x="736.6" y="348.7" class="ax" textLength="37.6" lengthAdjust="spacingAndGlyphs">0.84000</text>
<text x="736.6" y="379.1" class="ax" textLength="37.6" lengthAdjust="spacingAndGlyphs">0.82000</text>
<text x="736.6" y="409.4" class="ax" textLength="37.6" lengthAdjust="spacingAndGlyphs">0.80000</text>
<text x="736.6" y="439.8" class="ax" textLength="37.6" lengthAdjust="spacingAndGlyphs">0.78000</text>
<text x="736.6" y="470.1" class="ax" textLength="37.6" lengthAdjust="spacingAndGlyphs">0.76000</text>
<text x="736.6" y="500.5" class="ax" textLength="37.6" lengthAdjust="spacingAndGlyphs">0.74000</text>
<text x="736.6" y="530.9" class="ax" textLength="37.6" lengthAdjust="spacingAndGlyphs">0.72000</text>
<text x="736.6" y="561.2" class="ax" textLength="37.6" lengthAdjust="spacingAndGlyphs">0.70000</text>
<text x="736.6" y="591.6" class="ax" textLength="37.6" lengthAdjust="spacingAndGlyphs">0.68000</text>
<text x="736.6" y="621.9" class="ax" textLength="37.6" lengthAdjust="spacingAndGlyphs">0.66000</text>
<text x="736.6" y="652.3" class="ax" textLength="37.6" lengthAdjust="spacingAndGlyphs">0.64000</text>
<text x="736.6" y="682.7" class="ax" textLength="37.6" lengthAdjust="spacingAndGlyphs">0.62000</text>
<text x="736.6" y="713.0" class="ax" textLength="37.6" lengthAdjust="spacingAndGlyphs">0.60000</text>
<rect x="728" y="136" width="50" height="17" fill="#f00"/>
<text x="736.6" y="148.6" class="ax" style="fill:#fff;stroke:none;font-weight:bold" textLength="37.6" lengthAdjust="spacingAndGlyphs">0.97211</text>
<rect x="728" y="354" width="50" height="17" fill="#f00"/>
<text x="736.6" y="366.6" class="ax" style="fill:#fff;stroke:none;font-weight:bold" textLength="37.6" lengthAdjust="spacingAndGlyphs">0.82839</text>
<rect x="728" y="274" width="50" height="30" fill="#000"/>
<text x="736.6" y="286" class="ax" style="fill:#fff;stroke:none;font-weight:bold" textLength="37.6" lengthAdjust="spacingAndGlyphs">0.88106</text>
<text x="736.6" y="298.8" class="ax" style="fill:#fff;stroke:none" textLength="37.6" lengthAdjust="spacingAndGlyphs">23d 14h</text>
<rect x="731.5" y="3.5" width="47" height="24.5" rx="4" fill="#fff" stroke="#ebebeb"/>
<text x="735" y="19.8" textLength="21.4" lengthAdjust="spacingAndGlyphs" style="font-size:12px;fill:#111">GBP</text>
<path d="M769.2 15.2 L771.6 17.6 L774 15.2" fill="none" stroke="#111" stroke-width="1.4"/>
<text x="63.4" y="758" text-anchor="middle" class="ax" style="font-weight:bold;fill:#555;stroke:none">2015</text>
<text x="155.1" y="758" text-anchor="middle" class="ax" style="font-weight:bold;fill:#555;stroke:none">2017</text>
<text x="246.7" y="758" text-anchor="middle" class="ax" style="font-weight:bold;fill:#555;stroke:none">2019</text>
<text x="338.4" y="758" text-anchor="middle" class="ax" style="font-weight:bold;fill:#555;stroke:none">2021</text>
<text x="430.1" y="758" text-anchor="middle" class="ax" style="font-weight:bold;fill:#555;stroke:none">2023</text>
<text x="521.8" y="758" text-anchor="middle" class="ax" style="font-weight:bold;fill:#555;stroke:none">2025</text>
<text x="613.4" y="758" text-anchor="middle" class="ax" style="font-weight:bold;fill:#555;stroke:none">2027</text>
<text x="705.1" y="758" text-anchor="middle" class="ax" style="font-weight:bold;fill:#555;stroke:none">2029</text>
<polygon points="762.8,754.4 759.2,760.5 752.0,760.5 748.4,754.4 752.0,748.3 759.2,748.3" fill="none" stroke="#222" stroke-width="1.2"/>
<circle cx="755.6" cy="754.4" r="2.3" fill="none" stroke="#222" stroke-width="1.2"/>
</svg></body></html>
